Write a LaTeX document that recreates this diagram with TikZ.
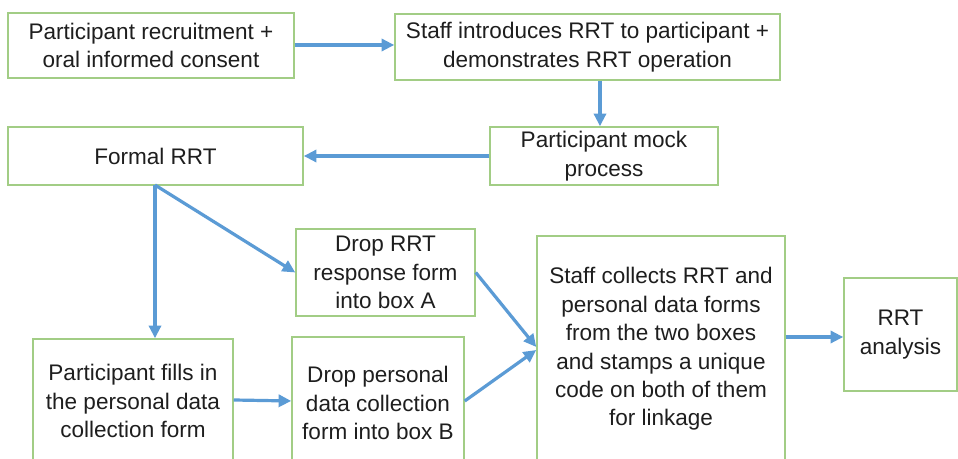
\documentclass[tikz,border=0pt]{standalone}
\usepackage{fontspec}
\setmainfont{Liberation Sans}
\usetikzlibrary{arrows.meta}
\definecolor{boxgreen}{HTML}{A2CD85}
\definecolor{flowblue}{HTML}{5B9BD5}
\definecolor{txt}{HTML}{1E1E1E}
\begin{document}
\begin{tikzpicture}[x=0.75pt,y=-0.75pt,
  stepbox/.style={draw=boxgreen,line width=1.1pt,fill=white,align=center,
    text=txt,inner sep=0pt,font=\fontsize{16.9}{21.3}\selectfont},
  flow/.style={draw=flowblue,line width=2.4pt,
    -{Triangle[length=9.5pt,width=9pt]}}]
\clip (0,0) rectangle (958,459);
\fill[white] (0,0) rectangle (958,459);

\node[stepbox,minimum width=214.5pt,minimum height=48.75pt] (recruit) at (151,45.5)
  {Participant recruitment +\\oral informed consent};
\node[stepbox,minimum width=288.75pt,minimum height=49.5pt] (intro) at (587.5,47)
  {Staff introduces RRT to participant +\\demonstrates RRT operation};
\node[stepbox,minimum width=171pt,minimum height=43.5pt] (mock) at (604,156)
  {Participant mock\\process};
\node[stepbox,minimum width=221.25pt,minimum height=43.5pt] (formal) at (155.5,156)
  {Formal RRT};
\node[stepbox,minimum width=134.25pt,minimum height=65.25pt] (dropA) at (385.5,272.5)
  {Drop RRT\\response form\\into box A};
\node[stepbox,minimum width=150pt,minimum height=93pt] (fills) at (133,401)
  {Participant fills in\\the personal data\\collection form};
\node[stepbox,minimum width=129pt,minimum height=99pt] (dropB) at (378,403)
  {Drop personal\\data collection\\form into box B};
\node[stepbox,minimum width=186pt,minimum height=169.5pt] (staff) at (661,349)
  {Staff collects RRT and\\personal data forms\\from the two boxes\\and stamps a unique\\code on both of them\\for linkage};
\node[stepbox,minimum width=84.75pt,minimum height=84.75pt] (analysis) at (900.5,334.5)
  {RRT\\analysis};

\coordinate (fb) at (155,185);
\draw[flow] (recruit.east |- 0,45) -- (intro.west |- 0,45);
\draw[flow] (intro.south -| 600,0) -- (mock.north -| 600,0);
\draw[flow] (mock.west) -- (formal.east |- mock.west);
\draw[flow] (fb) -- (fills.north -| fb);
\draw[flow] (fb) -- (dropA.west);
\draw[flow] (fills.east |- 0,400) -- (dropB.west |- 0,401);
\draw[flow] (dropA.east) -- (staff.west |- 0,347);
\draw[flow] (dropB.east |- 0,401) -- (staff.west |- 0,350);
\draw[flow] (staff.east |- 0,337) -- (analysis.west |- 0,337);
\end{tikzpicture}
\end{document}
